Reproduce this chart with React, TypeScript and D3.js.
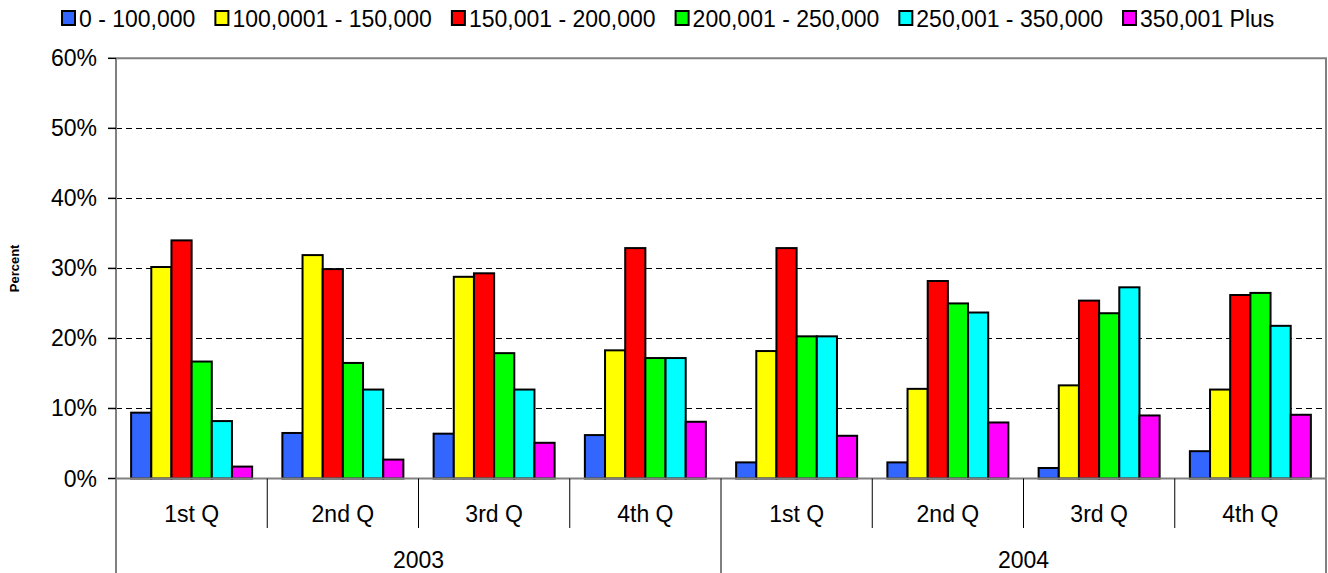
import { useEffect, useRef } from 'react';
import * as d3 from 'd3';

const years = ['2003', '2004'];
const quarters = ['1st Q', '2nd Q', '3rd Q', '4th Q'];
const seriesNames = [
    '0 - 100,000',
    '100,0001 - 150,000',
    '150,001 - 200,000',
    '200,001 - 250,000',
    '250,001 - 350,000',
    '350,001 Plus',
];
const seriesColors = ['#3366FF', '#FFFF00', '#FF0000', '#00FF00', '#00FFFF', '#FF00FF'];

// percent values per series, one entry per quarter (2003 Q1..Q4, 2004 Q1..Q4)
const band0to100 = [9.4, 6.5, 6.4, 6.2, 2.3, 2.3, 1.5, 3.9];
const band100to150 = [30.2, 31.9, 28.8, 18.3, 18.2, 12.8, 13.3, 12.7];
const band150to200 = [34.0, 29.9, 29.3, 32.9, 32.9, 28.2, 25.4, 26.2];
const band200to250 = [16.7, 16.5, 17.9, 17.2, 20.3, 25.0, 23.6, 26.5];
const band250to350 = [8.2, 12.7, 12.7, 17.2, 20.3, 23.7, 27.3, 21.8];
const band350plus = [1.7, 2.7, 5.1, 8.1, 6.1, 8.0, 9.0, 9.1];
const seriesValues = [band0to100, band100to150, band150to200, band200to250, band250to350, band350plus];
const yTicks = [0, 10, 20, 30, 40, 50, 60];

const WIDTH = 1328;
const HEIGHT = 573;
const FONT = '"Liberation Sans", Arial, sans-serif';
const LABEL_SIZE = 23;

export default function App() {
    const svgRef = useRef<SVGSVGElement | null>(null);

    useEffect(() => {
        if (!svgRef.current) {
            return;
        }
        document.body.style.margin = '0';
        const svg = d3.select(svgRef.current);
        svg.selectAll('*').remove();

        const plot = { left: 116, right: 1326, top: 58.3, bottom: 478.5 };
        const categories = years.flatMap((year) => quarters.map((q) => `${year}|${q}`));

        const x0 = d3
            .scaleBand<string>()
            .domain(categories)
            .range([plot.left, plot.right])
            .paddingInner(0.2)
            .paddingOuter(0.1);
        const x1 = d3.scaleBand<string>().domain(seriesNames).range([0, x0.bandwidth()]);
        const y = d3.scaleLinear().domain([0, 60]).range([plot.bottom, plot.top]);
        const step = x0.step();

        // gridlines
        svg.append('g')
            .selectAll('line')
            .data(yTicks.filter((t) => t > 0 && t < 60))
            .join('line')
            .attr('x1', plot.left)
            .attr('x2', plot.right)
            .attr('y1', (t) => Math.round(y(t)) + 0.5)
            .attr('y2', (t) => Math.round(y(t)) + 0.5)
            .attr('stroke', '#000')
            .attr('stroke-width', 1)
            .attr('stroke-dasharray', '6,4');

        // plot border (top + right)
        svg.append('path')
            .attr('d', `M${plot.left},${plot.top}H${plot.right}V${plot.bottom}`)
            .attr('fill', 'none')
            .attr('stroke', '#808080')
            .attr('stroke-width', 2);

        // bars
        seriesValues.forEach((values, si) => {
            svg.append('g')
                .selectAll('rect')
                .data(values)
                .join('rect')
                .attr('x', (_, i) => (x0(categories[i]) ?? 0) + (x1(seriesNames[si]) ?? 0))
                .attr('y', (v) => y(v))
                .attr('width', x1.bandwidth())
                .attr('height', (v) => y(0) - y(v))
                .attr('fill', seriesColors[si])
                .attr('stroke', '#000')
                .attr('stroke-width', 2);
        });

        // y axis
        const yAxis = svg.append('g');
        yAxis.append('line')
            .attr('x1', plot.left)
            .attr('x2', plot.left)
            .attr('y1', plot.top)
            .attr('y2', HEIGHT)
            .attr('stroke', '#808080')
            .attr('stroke-width', 2);
        yAxis.selectAll('line.tick')
            .data(yTicks)
            .join('line')
            .attr('class', 'tick')
            .attr('x1', plot.left - 8)
            .attr('x2', plot.left)
            .attr('y1', (t) => y(t))
            .attr('y2', (t) => y(t))
            .attr('stroke', '#000')
            .attr('stroke-width', 1.5);
        yAxis.selectAll('text')
            .data(yTicks)
            .join('text')
            .attr('x', 97)
            .attr('y', (t) => y(t) + 8)
            .attr('text-anchor', 'end')
            .attr('font-family', FONT)
            .attr('font-size', LABEL_SIZE)
            .attr('fill', '#000')
            .text((t) => `${t}%`);

        svg.append('text')
            .attr('transform', `translate(19, ${(plot.top + plot.bottom) / 2}) rotate(-90)`)
            .attr('text-anchor', 'middle')
            .attr('font-family', FONT)
            .attr('font-size', 13)
            .attr('font-weight', 700)
            .text('Percent');

        // x axis baseline
        svg.append('line')
            .attr('x1', plot.left)
            .attr('x2', plot.right)
            .attr('y1', plot.bottom)
            .attr('y2', plot.bottom)
            .attr('stroke', '#808080')
            .attr('stroke-width', 2);

        // quarter separators and labels
        const xAxis = svg.append('g');
        const innerSeparators = d3.range(1, categories.length).filter((i) => i % quarters.length !== 0);
        xAxis.selectAll('line.q')
            .data(innerSeparators)
            .join('line')
            .attr('class', 'q')
            .attr('x1', (i) => plot.left + i * step)
            .attr('x2', (i) => plot.left + i * step)
            .attr('y1', plot.bottom)
            .attr('y2', 528)
            .attr('stroke', '#000')
            .attr('stroke-width', 1);
        xAxis.selectAll('line.yr')
            .data(d3.range(0, years.length + 1))
            .join('line')
            .attr('class', 'yr')
            .attr('x1', (i) => plot.left + i * quarters.length * step)
            .attr('x2', (i) => plot.left + i * quarters.length * step)
            .attr('y1', plot.bottom)
            .attr('y2', HEIGHT)
            .attr('stroke', (i) => (i === 0 || i === years.length ? '#808080' : '#000'))
            .attr('stroke-width', (i) => (i === 0 || i === years.length ? 2 : 1));
        xAxis.selectAll('text.q')
            .data(categories)
            .join('text')
            .attr('class', 'q')
            .attr('x', (_, i) => plot.left + (i + 0.5) * step)
            .attr('y', 522)
            .attr('text-anchor', 'middle')
            .attr('font-family', FONT)
            .attr('font-size', LABEL_SIZE)
            .text((c) => c.split('|')[1]);
        xAxis.selectAll('text.yr')
            .data(years)
            .join('text')
            .attr('class', 'yr')
            .attr('x', (_, i) => plot.left + (i + 0.5) * quarters.length * step)
            .attr('y', 568)
            .attr('text-anchor', 'middle')
            .attr('font-family', FONT)
            .attr('font-size', LABEL_SIZE)
            .text((yr) => yr);

        // legend
        const legend = svg.append('g');
        let cursor = 62;
        seriesNames.forEach((name, i) => {
            legend.append('rect')
                .attr('x', cursor)
                .attr('y', 11)
                .attr('width', 13)
                .attr('height', 14)
                .attr('fill', seriesColors[i])
                .attr('stroke', '#000')
                .attr('stroke-width', 2);
            const label = legend.append('text')
                .attr('x', cursor + 17)
                .attr('y', 27)
                .attr('font-family', FONT)
                .attr('font-size', LABEL_SIZE)
                .text(name);
            const w = (label.node() as SVGTextElement).getComputedTextLength();
            cursor += 17 + w + 20;
        });
    }, []);

    return (
        <svg
            ref={svgRef}
            width={WIDTH}
            height={HEIGHT}
            style={{ display: 'block', background: '#fff' }}
            role="img"
            aria-label="Quarterly price band distribution"
        />
    );
}
